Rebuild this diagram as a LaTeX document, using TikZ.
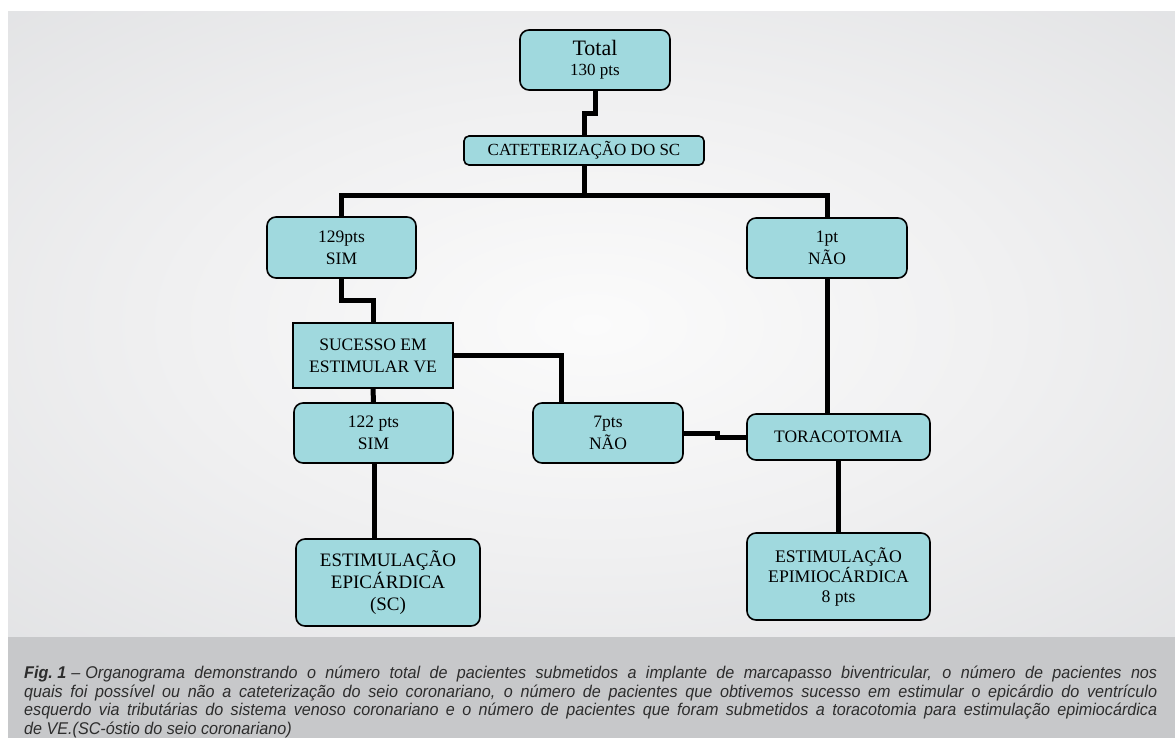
\documentclass[tikz,border=0pt]{standalone}
\usepackage{fontspec}
\setmainfont{Liberation Serif}
\newfontfamily\capfont[FakeStretch=0.95]{Liberation Sans}
\definecolor{boxfill}{RGB}{160,217,222}
\definecolor{capband}{RGB}{199,200,202}
\definecolor{captext}{RGB}{45,45,45}
\definecolor{bgc0}{RGB}{251,251,251}
\definecolor{bgc1}{RGB}{240,240,241}
\definecolor{bgc2}{RGB}{222,223,225}
\definecolor{bgc3}{RGB}{206,207,209}
\pgfdeclareradialshading{bgshade}{\pgfpoint{0bp}{0bp}}{color(0bp)=(bgc0); color(18bp)=(bgc1); color(42bp)=(bgc2); color(71bp)=(bgc3)}
\pgfdeclarelayer{bg}
\pgfdeclarelayer{conn}
\pgfsetlayers{bg,conn,main}
\tikzset{
  rbox/.style={draw=black, line width=1.6pt, fill=boxfill, rounded corners=9pt, inner sep=0pt, align=center,
    font=\fontsize{17.5}{21.7}\selectfont},
  sbox/.style={rbox, rounded corners=0pt},
  conn/.style={draw=black, line width=5pt, line join=miter},
}
\begin{document}
\begin{tikzpicture}[x=1pt,y=-1pt]
\useasboundingbox (0,0) rectangle (1175,738);
\begin{pgfonlayer}{bg}
\fill[white] (0,0) rectangle (1175,738);
\shade[shading=bgshade] (8,12) rectangle (1175,637);
\fill[capband] (8,637) rectangle (1175,738);
\end{pgfonlayer}

\node[rbox, minimum width=150pt, minimum height=60pt, font=\fontsize{17}{20}\selectfont] (total) at (595,60)
  {{\fontsize{22}{20}\selectfont Total}\\130 pts};
\node[rbox, rounded corners=5pt, minimum width=240pt, minimum height=29pt, font=\fontsize{17}{20}\selectfont] (cat) at (584,150.5)
  {CATETERIZAÇÃO DO SC};
\node[rbox, minimum width=149pt, minimum height=61pt] (sim1) at (341.5,247.5) {129pts\\SIM};
\node[rbox, minimum width=160pt, minimum height=60pt] (nao1) at (827,248) {1pt\\NÃO};
\node[sbox, minimum width=160pt, minimum height=65pt] (suc) at (373,355.5) {SUCESSO EM\\ESTIMULAR VE};
\node[rbox, minimum width=159pt, minimum height=60pt] (sim2) at (373.5,433) {122 pts\\SIM};
\node[rbox, minimum width=150pt, minimum height=60pt] (nao2) at (608,433) {7pts\\NÃO};
\node[rbox, minimum width=183pt, minimum height=46pt] (tor) at (838.5,437) {TORACOTOMIA};
\node[rbox, minimum width=184pt, minimum height=87pt, font=\fontsize{19}{21.7}\selectfont] (epic) at (388,582.5)
  {ESTIMULAÇÃO\\EPICÁRDICA\\(SC)};
\node[rbox, minimum width=183pt, minimum height=87pt, font=\fontsize{17.7}{20}\selectfont] (epim) at (838.5,576.5)
  {ESTIMULAÇÃO\\EPIMIOCÁRDICA\\8 pts};

\begin{pgfonlayer}{conn}
\draw[conn] (total.south) -- ++(0,23) -| (cat.north);
\draw[conn] (cat.south) -- ++(0,30) coordinate (bus);
\draw[conn] (sim1.north) |- (bus) -| (nao1.north);
\draw[conn] (sim1.south) -- ++(0,22) -| (suc.north);
\draw[conn] (suc.east) -| ([xshift=-47pt]nao2.north);
\draw[conn] (suc.south) -- (sim2.north);
\draw[conn] ([xshift=0.5pt]sim2.south) -- ([xshift=0.5pt]sim2.south |- epic.north);
\draw[conn] (nao1.south) -- (nao1.south |- tor.north);
\draw[conn] (tor.south) -- (epim.north);
\draw[conn] (nao2.east) -- ++(34,0) |- (tor.west);
\end{pgfonlayer}

\node[anchor=north west, text width=1133pt, align=justify, inner sep=0pt, text=captext,
  font={\capfont\itshape\fontsize{17}{18.5}\selectfont\hyphenpenalty=10000\relax}] (caption) at (24,666)
  {\textbf{Fig.\hspace{4.5pt}1}\hspace{5pt}–\hspace{5pt}Organograma demonstrando o número total de pacientes submetidos a implante de marcapasso biventricular, o número de pacientes nos\linebreak
  quais foi possível ou não a cateterização do seio coronariano, o número de pacientes que obtivemos sucesso em estimular o epicárdio do ventrículo\linebreak
  esquerdo via tributárias do sistema venoso coronariano e o número de pacientes que foram submetidos a toracotomia para estimulação epimiocárdica\linebreak
  de VE.(SC-óstio do seio coronariano)};
\end{tikzpicture}
\end{document}
